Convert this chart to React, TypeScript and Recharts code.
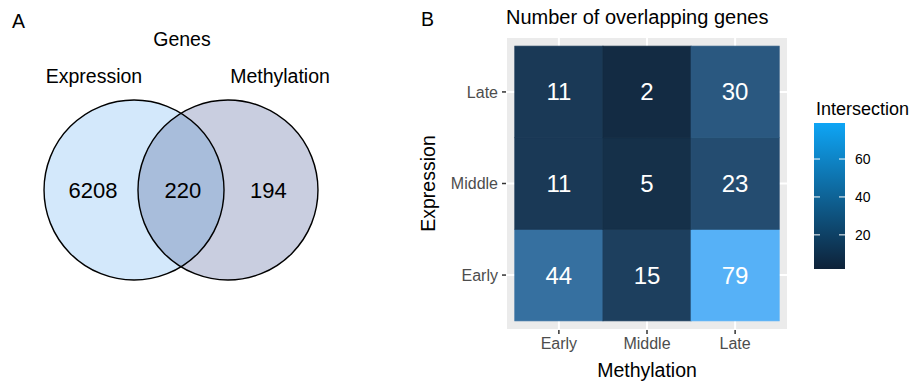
import React from 'react';
import { ScatterChart, Scatter, XAxis, YAxis, CartesianGrid, Legend } from 'recharts';

// Panel A: Venn diagram of genes
const vennSets = ['Expression', 'Methylation'];
const vennRegions = ['Expression only', 'Both', 'Methylation only'];
const vennCounts = [6208, 220, 194];

// Panel B: overlap heatmap (rows = expression stage, columns = methylation stage)
const methylationStages = ['Early', 'Middle', 'Late'];
const expressionStages = ['Early', 'Middle', 'Late'];
const overlapExprEarly = [44, 15, 79];
const overlapExprMiddle = [11, 5, 23];
const overlapExprLate = [11, 2, 30];
const legendTicks = [20, 40, 60];

const FONT = '"Liberation Sans", Arial, Helvetica, sans-serif';

// ---- Venn layout (units: circle radius = 1) ----
const V_W = 400;
const V_H = 382;
const V_PX = 90; // px per unit
const V_CX = 181;
const V_CY = 190;
const vDomX: [number, number] = [-V_CX / V_PX, (V_W - V_CX) / V_PX];
const vDomY: [number, number] = [(V_CY - V_H) / V_PX, V_CY / V_PX];
const CIRCLE_OFFSET = 0.522;
const circleFills = ['#d3e8fb', '#c9cee0'];
const LENS_FILL = '#a8bddb';
const regionLabelX = [-0.978, 0.02, 0.97];
const setLabelX = [-0.967, 1.1];
const SET_LABEL_Y = 1.272;

const circles = vennSets.map((name, i) => ({
  name,
  x: i === 0 ? -CIRCLE_OFFSET : CIRCLE_OFFSET,
  y: 0,
  fill: circleFills[i],
}));
const lens = [{ x: 0, y: 0 }];
const regionLabels = vennRegions.map((name, i) => ({
  name,
  x: regionLabelX[i],
  y: 0,
  label: String(vennCounts[i]),
  size: 22,
}));
const setLabels = vennSets.map((name, i) => ({
  name,
  x: setLabelX[i],
  y: SET_LABEL_Y,
  label: name,
  size: 19.5,
}));

const CircleFill = (p: any) => (
  <circle cx={p.cx} cy={p.cy} r={V_PX} fill={p.payload.fill} stroke="none" />
);
const CircleOutline = (p: any) => (
  <circle cx={p.cx} cy={p.cy} r={V_PX} fill="none" stroke="#000" strokeWidth={1.4} />
);
const LensShape = (p: any) => {
  const d = CIRCLE_OFFSET * V_PX;
  const h = Math.sqrt(V_PX * V_PX - d * d);
  return (
    <path
      d={`M${p.cx},${p.cy - h} A${V_PX},${V_PX} 0 0 1 ${p.cx},${p.cy + h} A${V_PX},${V_PX} 0 0 1 ${p.cx},${p.cy - h} Z`}
      fill={LENS_FILL}
    />
  );
};
const TextShape = (p: any) => (
  <text
    x={p.cx}
    y={p.cy}
    textAnchor="middle"
    dominantBaseline="central"
    fontSize={p.payload.size}
    fill="#000"
  >
    {p.payload.label}
  </text>
);

// ---- colour scale (ggplot-like Lab gradient) ----
const LOW = '#132B43';
const HIGH = '#56B1F7';

function hexToLab(hex: string) {
  const lin = (v: number) => {
    const c = v / 255;
    return c <= 0.04045 ? c / 12.92 : Math.pow((c + 0.055) / 1.055, 2.4);
  };
  const r = lin(parseInt(hex.slice(1, 3), 16));
  const g = lin(parseInt(hex.slice(3, 5), 16));
  const b = lin(parseInt(hex.slice(5, 7), 16));
  const X = (0.4124 * r + 0.3576 * g + 0.1805 * b) / 0.95047;
  const Y = 0.2126 * r + 0.7152 * g + 0.0722 * b;
  const Z = (0.0193 * r + 0.1192 * g + 0.9505 * b) / 1.08883;
  const f = (t: number) => (t > 0.008856 ? Math.cbrt(t) : 7.787 * t + 16 / 116);
  const fx = f(X), fy = f(Y), fz = f(Z);
  return [116 * fy - 16, 500 * (fx - fy), 200 * (fy - fz)];
}

function labToHex([L, a, bb]: number[]) {
  const fy = (L + 16) / 116;
  const fx = a / 500 + fy;
  const fz = fy - bb / 200;
  const inv = (t: number) => (t * t * t > 0.008856 ? t * t * t : (t - 16 / 116) / 7.787);
  const X = inv(fx) * 0.95047;
  const Y = inv(fy);
  const Z = inv(fz) * 1.08883;
  const rl = 3.2406 * X - 1.5372 * Y - 0.4986 * Z;
  const gl = -0.9689 * X + 1.8758 * Y + 0.0415 * Z;
  const bl = 0.0557 * X - 0.204 * Y + 1.057 * Z;
  const out = (c: number) => {
    const v = c <= 0.0031308 ? 12.92 * c : 1.055 * Math.pow(c, 1 / 2.4) - 0.055;
    return Math.round(Math.max(0, Math.min(1, v)) * 255)
      .toString(16)
      .padStart(2, '0');
  };
  return `#${out(rl)}${out(gl)}${out(bl)}`;
}

const lowLab = hexToLab(LOW);
const highLab = hexToLab(HIGH);

// ---- heatmap layout ----
const H_W = 510;
const H_H = 382;
const H_MARGIN = { top: 37, right: 122, bottom: 22, left: 46 };
const Y_AXIS_W = 60;
const X_AXIS_H = 30;
const H_DOMAIN: [number, number] = [0.4, 3.6];
const plotW = H_W - H_MARGIN.left - Y_AXIS_W - H_MARGIN.right;
const plotH = H_H - H_MARGIN.top - H_MARGIN.bottom - X_AXIS_H;
const tileW = plotW / (H_DOMAIN[1] - H_DOMAIN[0]);
const tileH = plotH / (H_DOMAIN[1] - H_DOMAIN[0]);

const overlapRows = [overlapExprEarly, overlapExprMiddle, overlapExprLate];
const cells = overlapRows.flatMap((row, r) =>
  row.map((value, c) => ({
    x: c + 1,
    y: r + 1,
    value,
    methylation: methylationStages[c],
    expression: expressionStages[r],
  }))
);
const allValues = overlapRows.flat();
const vMin = Math.min(...allValues);
const vMax = Math.max(...allValues);

const colorFor = (v: number) => {
  const t = (v - vMin) / (vMax - vMin);
  return labToHex(lowLab.map((l, i) => l + (highLab[i] - l) * t));
};

const TileShape = (p: any) => {
  const fill = colorFor(p.payload.value);
  return (
    <g>
      <rect
        x={p.cx - tileW / 2}
        y={p.cy - tileH / 2}
        width={tileW}
        height={tileH}
        fill={fill}
        stroke={fill}
        strokeWidth={0.8}
      />
      <text
        x={p.cx}
        y={p.cy}
        textAnchor="middle"
        dominantBaseline="central"
        fontSize={24}
        fill="#fff"
      >
        {p.payload.value}
      </text>
    </g>
  );
};

const ColorBar = () => {
  const barTop = 28;
  const barH = 146;
  const barW = 31;
  const yOf = (v: number) => barTop + ((vMax - v) / (vMax - vMin)) * barH;
  return (
    <svg width={100} height={180} style={{ display: 'block', overflow: 'visible', fontFamily: FONT }}>
      <defs>
        <linearGradient id="cbar" x1="0" y1="1" x2="0" y2="0">
          <stop offset="0%" stopColor="#0e2239" />
          <stop offset="100%" stopColor="#0ea5f5" />
        </linearGradient>
      </defs>
      <text x={2} y={20} fontSize={18} fill="#000">
        Intersection
      </text>
      <rect x={0} y={barTop} width={barW} height={barH} fill="url(#cbar)" />
      {legendTicks.map((t) => (
        <g key={t}>
          <line x1={0} x2={6} y1={yOf(t)} y2={yOf(t)} stroke="#fff" strokeWidth={1} />
          <line x1={barW - 6} x2={barW} y1={yOf(t)} y2={yOf(t)} stroke="#fff" strokeWidth={1} />
          <text x={41} y={yOf(t)} dominantBaseline="central" fontSize={14} fill="#000">
            {t}
          </text>
        </g>
      ))}
    </svg>
  );
};

export default function App() {
  return (
    <div style={{ position: 'relative', width: 910, height: 382, fontFamily: FONT, background: '#fff' }}>
      <style>{'body{margin:0}'}</style>

      {/* Panel A: Venn */}
      <div style={{ position: 'absolute', left: 0, top: 0 }}>
        <ScatterChart width={V_W} height={V_H} margin={{ top: 0, right: 0, bottom: 0, left: 0 }}>
          <XAxis type="number" dataKey="x" domain={vDomX} hide allowDataOverflow />
          <YAxis type="number" dataKey="y" domain={vDomY} hide allowDataOverflow />
          <Scatter data={circles} shape={CircleFill} isAnimationActive={false} />
          <Scatter data={lens} shape={LensShape} isAnimationActive={false} />
          <Scatter data={circles} shape={CircleOutline} isAnimationActive={false} />
          <Scatter data={regionLabels} shape={TextShape} isAnimationActive={false} />
          <Scatter data={setLabels} shape={TextShape} isAnimationActive={false} />
        </ScatterChart>
      </div>

      {/* Panel B: heatmap */}
      <div style={{ position: 'absolute', left: 400, top: 0 }}>
        <ScatterChart width={H_W} height={H_H} margin={H_MARGIN}>
          <CartesianGrid fill="#EBEBEB" stroke="#fff" strokeWidth={2} />
          <XAxis
            type="number"
            dataKey="x"
            domain={H_DOMAIN}
            ticks={[1, 2, 3]}
            tickFormatter={(v: number) => methylationStages[v - 1]}
            height={X_AXIS_H}
            axisLine={false}
            tickSize={4}
            tickMargin={4}
            tickLine={{ stroke: '#333', strokeWidth: 1.5 }}
            tick={{ fill: '#4d4d4d', fontSize: 16 }}
            allowDataOverflow
            label={{ value: 'Methylation', position: 'center', dy: 25, fontSize: 19.5, fill: '#000' }}
          />
          <YAxis
            type="number"
            dataKey="y"
            domain={H_DOMAIN}
            ticks={[1, 2, 3]}
            tickFormatter={(v: number) => expressionStages[v - 1]}
            width={Y_AXIS_W}
            axisLine={false}
            tickSize={4}
            tickMargin={4}
            tickLine={{ stroke: '#333', strokeWidth: 1.5 }}
            tick={{ fill: '#4d4d4d', fontSize: 16 }}
            allowDataOverflow
            label={{ value: 'Expression', position: 'center', angle: -90, dx: -48, fontSize: 19.5, fill: '#000' }}
          />
          <Scatter data={cells} shape={TileShape} isAnimationActive={false} />
          <Legend
            layout="vertical"
            align="center"
            verticalAlign="middle"
            content={() => <ColorBar />}
            wrapperStyle={{ left: 414, top: 95, width: 100, height: 180 }}
          />
        </ScatterChart>
      </div>

      {/* panel letters and titles */}
      <svg
        width={910}
        height={382}
        style={{ position: 'absolute', left: 0, top: 0, pointerEvents: 'none', fontFamily: FONT }}
      >
        <text x={12} y={28} fontSize={19.5} fill="#000">A</text>
        <text x={182} y={46} fontSize={19.5} fill="#000" textAnchor="middle">Genes</text>
        <text x={421} y={26} fontSize={19.5} fill="#000">B</text>
        <text x={506} y={24} fontSize={20} fill="#000">Number of overlapping genes</text>
      </svg>
    </div>
  );
}
